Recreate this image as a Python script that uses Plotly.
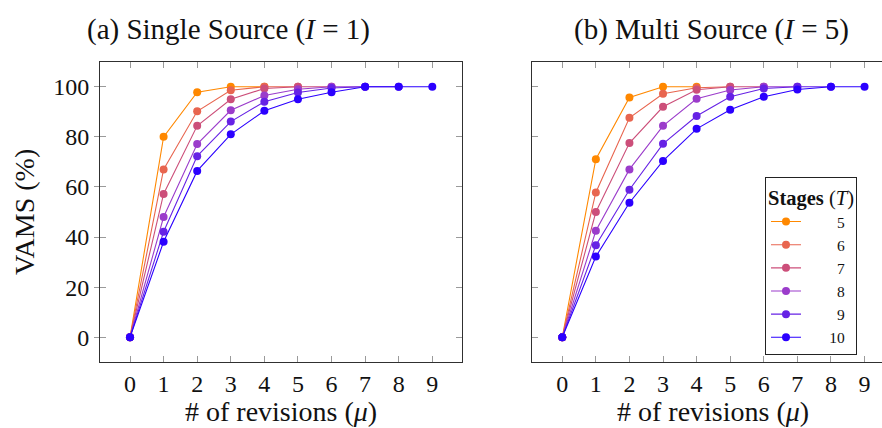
import plotly.graph_objects as go

W, H = 882, 428

revisions = [0, 1, 2, 3, 4, 5, 6, 7, 8, 9]
stages = [5, 6, 7, 8, 9, 10]
colors = ["#FF8800", "#E8654F", "#CC4F7A", "#9B3CCB", "#6622E5", "#2B00FF"]
y_ticks = [0, 20, 40, 60, 80, 100]

# (a) Single Source (I = 1): VAMS (%) per stage count T
single_T5 = [0, 80.0, 97.8, 100, 100]
single_T6 = [0, 67.0, 90.2, 98.6, 100, 100]
single_T7 = [0, 57.2, 84.4, 95.0, 99.3, 100, 100]
single_T8 = [0, 48.0, 77.1, 90.6, 96.5, 99.0, 100, 100]
single_T9 = [0, 42.1, 72.3, 86.1, 94.0, 97.7, 99.5, 100, 100]
single_T10 = [0, 38.1, 66.4, 81.0, 90.4, 95.0, 97.8, 100, 100, 100]

# (b) Multi Source (I = 5)
multi_T5 = [0, 71.1, 95.7, 100, 100]
multi_T6 = [0, 57.8, 87.6, 97.2, 99.6, 100]
multi_T7 = [0, 50.0, 77.5, 92.0, 98.8, 100, 100]
multi_T8 = [0, 42.5, 67.0, 84.4, 95.2, 98.7, 100, 100]
multi_T9 = [0, 36.7, 58.9, 77.2, 88.3, 96.0, 99.3, 100, 100]
multi_T10 = [0, 32.2, 53.7, 70.4, 83.2, 90.8, 96.0, 98.9, 100, 100]

single = [single_T5, single_T6, single_T7, single_T8, single_T9, single_T10]
multi = [multi_T5, multi_T6, multi_T7, multi_T8, multi_T9, multi_T10]

FONT = "Liberation Serif"
AX = "#303030"
TK = "#9a9a9a"
NB = "\u00a0"

fig = go.Figure()

for T, col, ys in zip(stages, colors, single):
    fig.add_trace(go.Scatter(
        x=revisions[:len(ys)], y=ys, mode="lines+markers",
        line=dict(color=col, width=1.1), marker=dict(color=col, size=8),
        name=str(T), showlegend=False, xaxis="x", yaxis="y"))

for T, col, ys in zip(stages, colors, multi):
    label = str(T)
    pad = NB * (8 if len(label) == 1 else 6)
    fig.add_trace(go.Scatter(
        x=revisions[:len(ys)], y=ys, mode="lines+markers",
        line=dict(color=col, width=1.1), marker=dict(color=col, size=8),
        name=pad + label, showlegend=True, xaxis="x2", yaxis="y2"))

def px_x(p):
    return p / W

def px_y(p):
    return 1 - p / H

ydom = [px_y(362.3), px_y(61.7)]
common_x = dict(tickvals=revisions, ticktext=[str(v) for v in revisions],
                showline=True, linecolor=AX, linewidth=1, mirror="ticks",
                ticks="inside", ticklen=6, tickcolor=TK, tickwidth=1,
                showgrid=False, zeroline=False,
                tickfont=dict(family=FONT, size=24, color="#111"))
common_y = dict(range=[-10, 110], tickvals=y_ticks,
                showline=True, linecolor=AX, linewidth=1,
                ticks="inside", ticklen=6, tickcolor=TK, tickwidth=1,
                showgrid=False, zeroline=False, domain=ydom,
                tickfont=dict(family=FONT, size=24, color="#111"))

fig.update_layout(
    width=W, height=H, margin=dict(l=0, r=0, t=0, b=0),
    paper_bgcolor="white", plot_bgcolor="white",
    font=dict(family=FONT, color="#111"),
    xaxis=dict(domain=[px_x(100), px_x(462.3)], range=[-0.893, 9.893], anchor="y", **common_x),
    yaxis=dict(anchor="x", mirror="ticks", showticklabels=False, **common_y),
    yaxis3=dict(overlaying="y", anchor="x", side="left", range=[-10, 110], tickvals=y_ticks,
                ticks="outside", ticklen=5, tickcolor=TK, showline=False, showgrid=False,
                zeroline=False, tickfont=dict(family=FONT, size=24, color="#111")),
    xaxis2=dict(domain=[px_x(531.7), 1], range=[-0.91, 9.52], anchor="y2", **common_x),
    yaxis2=dict(anchor="x2", mirror=False, showticklabels=False, **common_y),
    legend=dict(x=px_x(765), y=px_y(177.3), xanchor="left", yanchor="top",
                bordercolor="#222", borderwidth=1, bgcolor="white",
                font=dict(family=FONT, size=15.5, color="#111"),
                title=dict(text="<b>Stages</b> (<i>T</i>)", font=dict(family=FONT, size=20.5)),
                tracegroupgap=0),
)

# dummy invisible trace so the overlay axis renders
fig.add_trace(go.Scatter(x=[0], y=[0], xaxis="x", yaxis="y3", mode="markers",
                         marker=dict(opacity=0), showlegend=False, hoverinfo="skip"))

ann = [
    dict(text="(a) Single Source (<i>I</i> = 1)", x=px_x(229), y=px_y(29), size=29),
    dict(text="(b) Multi Source (<i>I</i> = 5)", x=px_x(711), y=px_y(29), size=29),
    dict(text="# of revisions (<i>μ</i>)", x=px_x(281), y=px_y(411), size=28),
    dict(text="# of revisions (<i>μ</i>)", x=px_x(713), y=px_y(411), size=28),
]
for a in ann:
    fig.add_annotation(text=a["text"], x=a["x"], y=a["y"], xref="paper", yref="paper",
                       xanchor="center", yanchor="middle", showarrow=False,
                       font=dict(family=FONT, size=a["size"], color="#111"))
fig.add_annotation(text="VAMS (%)", x=px_x(25), y=px_y(212), xref="paper", yref="paper",
                   xanchor="center", yanchor="middle", showarrow=False, textangle=-90,
                   font=dict(family=FONT, size=28, color="#111"))

fig.write_html("out.html", config={"displayModeBar": False},
               post_script="document.body.style.margin='0px';document.body.style.overflow='hidden';")
